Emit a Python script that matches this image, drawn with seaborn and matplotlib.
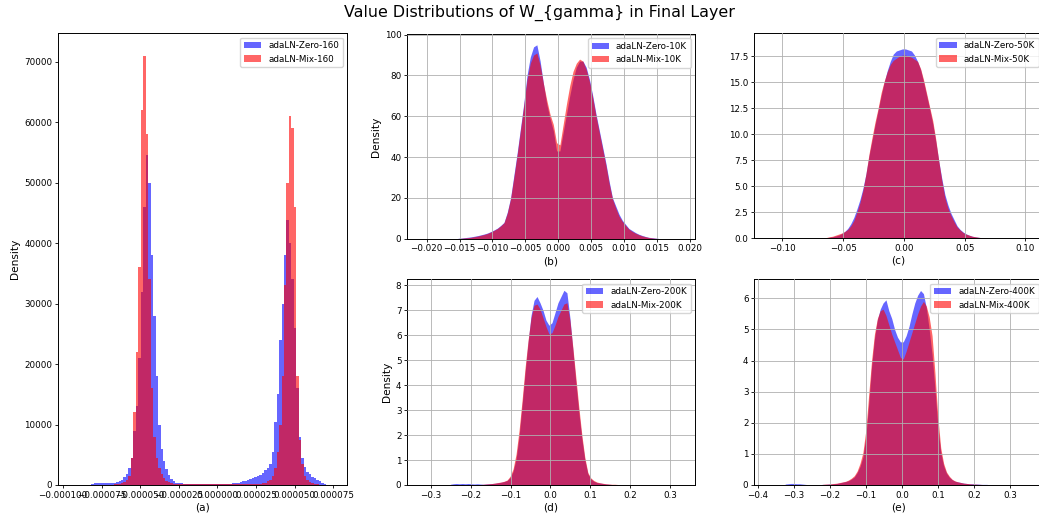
import numpy as np
import pandas as pd
import matplotlib
matplotlib.use("Agg")
import matplotlib.pyplot as plt
import seaborn as sns

# ---- histogram bin layout: (first edge, bin width) per panel ----
a_start, a_width = -0.0000880, 1.6e-6
b_start, b_width = -0.0155, 0.0005
c_start, c_width = -0.07, 0.0025
d_start, d_width = -0.255, 0.0075
e_start, e_width = -0.328, 0.008

# ---- (a) step 160 : density per bin ----
a_zero = [0, 0, 0, 0, 200, 250, 250, 280, 300, 300, 300, 300, 300, 400, 500, 700,
          900, 1300, 1800, 2800, 4500, 9000, 13000, 21000, 32000, 46000, 54500, 50000,
          38000, 28000, 18000, 10000, 6000, 4000, 2600, 1600, 1000, 600, 400, 300,
          250, 200, 150, 100, 100, 100, 100, 100, 100, 100, 100, 100, 100, 100, 100,
          100, 100, 100, 100, 150, 200, 250, 300, 400, 500, 600, 700, 800, 1000, 1100,
          1300, 1500, 1700, 2000, 2400, 2800, 3500, 5500, 10500, 15000, 24000, 30000,
          38000, 43800, 40000, 34000, 26000, 16000, 8000, 4500, 3000, 2200, 1800, 1400,
          1100, 800, 600, 400, 200, 0]
a_mix = [0, 0, 0, 0, 0, 0, 0, 0, 0, 0, 0, 50, 80, 100, 150, 200,
         300, 450, 800, 1500, 4500, 12000, 22000, 36000, 62000, 71000, 58000, 34000,
         16000, 8000, 4500, 2800, 1800, 1100, 700, 500, 300, 200, 150, 150,
         150, 150, 150, 150, 150, 150, 150, 150, 150, 150, 150, 150, 150, 150, 150,
         150, 150, 150, 150, 130, 130, 130, 130, 130, 130, 150, 170, 180, 200, 200,
         200, 200, 220, 300, 400, 600, 900, 1500, 2800, 5500, 10000, 18000,
         33000, 50000, 61000, 59000, 46000, 18000, 7500, 3500, 1500, 900, 500, 300,
         200, 100, 50, 0, 0, 0]

# ---- (b) step 10K ----
b_zero = [0.2, 0.3, 0.5, 0.7, 0.9, 1.2, 1.5, 1.9, 2.3, 2.8, 3.5, 4.3, 5.2, 6.5, 8.0,
          13, 20, 31, 42, 54, 66, 80, 89, 94, 95, 87, 76, 66, 59, 53, 43, 43, 52,
          61, 70, 78, 84, 87, 87, 84, 78, 70, 61, 53, 45, 37, 28, 20, 16, 12, 9, 7,
          5, 4, 3, 2.2, 1.6, 1.1, 0.7, 0.5, 0.3, 0.15]
b_mix = [0.1, 0.2, 0.35, 0.5, 0.7, 1.0, 1.3, 1.7, 2.1, 2.6, 3.3, 4.1, 5.0, 6.3, 7.8,
         12.5, 19.5, 30, 41, 53, 65, 78, 86, 90, 91, 85, 76, 68, 61, 56, 47, 46, 56,
         66, 75, 82, 86, 88, 87, 83, 77, 69, 60, 52, 44, 36, 27, 19.5, 15, 11, 8.5,
         6.5, 4.7, 3.6, 2.7, 2.0, 1.4, 1.0, 0.6, 0.4, 0.2, 0.1]

# ---- (c) step 50K ----
c_zero = [0.02, 0.04, 0.06, 0.1, 0.15, 0.22, 0.3, 0.45, 0.65, 0.95, 1.4, 2.0, 2.8,
          3.7, 4.8, 6.2, 7.9, 9.4, 10.9, 12.3, 13.7, 15.0, 16.1, 17.0, 17.7, 18.0,
          18.1, 18.2, 18.2, 18.1, 18.0, 17.6, 17.0, 16.2, 15.0, 13.7, 12.4, 11.0,
          9.3, 7.4, 5.7, 4.2, 3.2, 2.4, 1.8, 1.2, 0.85, 0.6, 0.42, 0.3, 0.2, 0.14,
          0.1, 0.06, 0.04, 0.02]
c_mix = [0.03, 0.05, 0.08, 0.15, 0.2, 0.3, 0.4, 0.5, 0.65, 0.85, 1.2, 1.7, 2.5,
         3.4, 4.6, 6.2, 8.1, 9.7, 11.2, 12.5, 14.0, 15.1, 16.0, 16.7, 17.1, 17.3,
         17.5, 17.6, 17.6, 17.5, 17.4, 17.2, 17.0, 16.3, 15.2, 13.9, 12.6, 11.3,
         9.5, 7.4, 5.5, 3.9, 2.9, 2.2, 1.6, 1.1, 0.8, 0.55, 0.4, 0.3, 0.2, 0.15,
         0.1, 0.06, 0.04, 0.02]

# ---- (d) step 200K ----
d_zero = [0.03, 0.05, 0.06, 0.05, 0.06, 0.05, 0.06, 0.05, 0.04, 0.05, 0.04, 0.03,
          0.04, 0.05, 0.06, 0.07, 0.09, 0.11, 0.14, 0.18, 0.3, 0.55, 1.05, 1.95,
          3.2, 4.5, 5.7, 6.8, 7.4, 7.55, 7.3, 7.0, 6.6, 6.4, 6.5, 6.9, 7.3, 7.55,
          7.8, 7.7, 6.7, 5.4, 4.1, 2.9, 1.85, 1.0, 0.45, 0.25, 0.15, 0.1, 0.08,
          0.06, 0.04, 0.03, 0.02, 0.02, 0.01, 0.01]
d_mix = [0, 0, 0, 0, 0, 0, 0, 0, 0, 0, 0.02, 0.03, 0.04, 0.05, 0.06, 0.08, 0.1,
         0.12, 0.15, 0.2, 0.35, 0.65, 1.25, 2.2, 3.4, 4.7, 5.8, 6.7, 7.2, 7.25,
         7.05, 6.7, 6.35, 6.05, 6.1, 6.4, 6.75, 7.0, 7.25, 7.3, 6.6, 5.5, 4.3, 3.1,
         2.0, 1.1, 0.5, 0.28, 0.18, 0.12, 0.09, 0.07, 0.05, 0.04, 0.03, 0.03,
         0.02, 0.01]

# ---- (e) step 400K ----
e_zero = [0.03, 0.04, 0.05, 0.05, 0.04, 0.04, 0.03, 0.02, 0.01, 0.01, 0.01, 0.01,
          0.01, 0.02, 0.02, 0.03, 0.03, 0.04, 0.05, 0.07, 0.09, 0.11, 0.14, 0.19,
          0.26, 0.4, 0.6, 0.9, 1.55, 2.6, 3.8, 4.7, 5.3, 5.65, 5.85, 5.95, 5.6,
          5.35, 5.0, 4.75, 4.6, 4.6, 4.8, 5.1, 5.5, 5.85, 6.1, 6.25, 6.15, 5.7,
          5.0, 4.2, 3.1, 1.9, 1.05, 0.62, 0.38, 0.25, 0.17, 0.12, 0.1, 0.08, 0.06,
          0.05, 0.04, 0.04, 0.03, 0.03, 0.02, 0.02, 0.02, 0.01, 0.01, 0]
e_mix = [0, 0, 0, 0, 0, 0, 0, 0, 0, 0, 0, 0, 0, 0.02, 0.03, 0.03, 0.04, 0.05,
         0.06, 0.08, 0.1, 0.12, 0.16, 0.22, 0.3, 0.45, 0.7, 1.05, 1.75, 2.9, 4.0,
         4.85, 5.35, 5.6, 5.65, 5.45, 5.15, 4.85, 4.6, 4.35, 4.1, 4.05, 4.3, 4.6,
         4.9, 5.2, 5.5, 5.75, 5.9, 5.75, 5.4, 4.8, 3.6, 2.2, 1.2, 0.7, 0.42, 0.28,
         0.18, 0.13, 0.1, 0.08, 0.06, 0.05, 0.04, 0.03, 0.03, 0.02, 0.02, 0.01, 0,
         0, 0, 0]

W, H = 1039, 515
TICK_FS, LABEL_FS, LEG_FS = 6.3, 7.6, 6.3

fig = plt.figure(figsize=(W / 100, H / 100), dpi=100)


def box(left, top, right, bottom):
    return [left / W, 1 - bottom / H, (right - left) / W, (bottom - top) / H]


def panel(rect, start, width, zero, mix, tag, letter, xlim, ylim,
          grid=True, ylabel=True, element="poly"):
    ax = fig.add_axes(rect)
    edges = [start + width * k for k in range(len(zero) + 1)]
    centers = [0.5 * (edges[k] + edges[k + 1]) for k in range(len(zero))]
    for heights, color, name in ((zero, "blue", "Zero"), (mix, "red", "Mix")):
        df = pd.DataFrame({"value": centers, "density": heights})
        sns.histplot(data=df, x="value", weights="density", bins=edges,
                     element=element, color=color, alpha=0.6, linewidth=0,
                     label=f"adaLN-{name}-{tag}", ax=ax)
    ax.set_xlim(*xlim)
    ax.set_ylim(*ylim)
    ax.set_xlabel(letter, fontsize=LABEL_FS, labelpad=2)
    ax.set_ylabel("Density" if ylabel else "", fontsize=LABEL_FS, labelpad=3)
    ax.tick_params(labelsize=TICK_FS, length=2.5, width=0.6, pad=1.5)
    for s in ax.spines.values():
        s.set_linewidth(0.7)
    if grid:
        ax.grid(True, color="#b0b0b0", linewidth=0.6)
        ax.set_axisbelow(False)
    ax.legend(loc="upper right", fontsize=LEG_FS, handlelength=2.0,
              borderpad=0.4, labelspacing=0.5, framealpha=0.8)
    return ax


# (a) coarse enough that the individual bars stay visible
ax_a = panel(box(58, 33.3, 347, 485), a_start, a_width, a_zero, a_mix, "160",
             "(a)", (-0.0001032, 0.0000840), (0, 74700), grid=False,
             element="bars")
ax_a.set_xticks(np.arange(-0.0001, 0.0000751, 0.000025))
ax_a.ticklabel_format(axis="x", style="plain", useOffset=False)
ax_a.set_yticks(np.arange(0, 70001, 10000))

# (b)
ax_b = panel(box(407, 34, 695, 238.7), b_start, b_width, b_zero, b_mix, "10K",
             "(b)", (-0.0230, 0.0208), (0, 100.3))
ax_b.set_xticks(np.arange(-0.020, 0.0201, 0.005))
ax_b.set_yticks(np.arange(0, 101, 20))

# (c)
ax_c = panel(box(754, 33.3, 1043, 238.3), c_start, c_width, c_zero, c_mix, "50K",
             "(c)", (-0.1234, 0.1145), (0, 19.7), ylabel=False)
ax_c.set_xticks([-0.10, -0.05, 0.0, 0.05, 0.10])
ax_c.set_yticks(np.arange(0, 17.6, 2.5))

# (d)
ax_d = panel(box(407, 279.3, 695, 485), d_start, d_width, d_zero, d_mix, "200K",
             "(d)", (-0.360, 0.3626), (0, 8.24))
ax_d.set_xticks(np.arange(-0.3, 0.301, 0.1))
ax_d.set_yticks(np.arange(0, 9, 1))

# (e)
ax_e = panel(box(754, 279.3, 1043, 485), e_start, e_width, e_zero, e_mix, "400K",
             "(e)", (-0.4104, 0.392), (0, 6.61), ylabel=False)
ax_e.set_xticks(np.arange(-0.4, 0.301, 0.1))
ax_e.set_yticks(np.arange(0, 7, 1))

fig.text(539 / W, 1 - 13 / H, "Value Distributions of W_{gamma} in Final Layer",
         ha="center", va="center", fontsize=11.4)

fig.savefig("out.png", dpi=100)
